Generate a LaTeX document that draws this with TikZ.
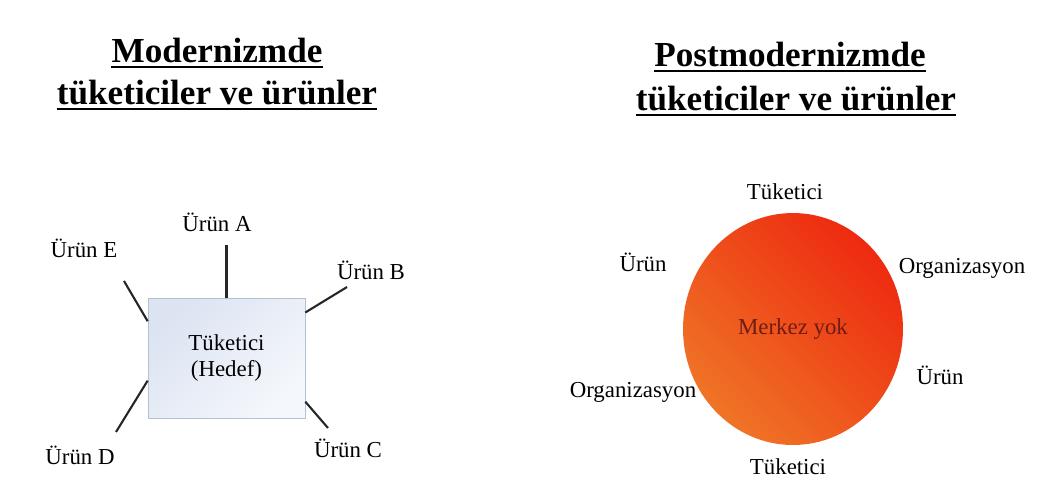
\documentclass[tikz,border=0pt]{standalone}
\usepackage{fontspec}
\setmainfont{Liberation Serif}
\usetikzlibrary{shapes.geometric}
\definecolor{boxfill}{HTML}{DCE4F2}
\definecolor{boxline}{HTML}{B4C0D4}
\definecolor{hotred}{HTML}{EE2A10}
\definecolor{hotorange}{HTML}{EF7426}
\definecolor{darkbrown}{HTML}{6E1C14}
\begin{document}
\begin{tikzpicture}[x=0.02cm,y=-0.02cm,every node/.style={font=\fontsize{13pt}{15pt}\selectfont},
  ttl/.style={font=\fontsize{20pt}{24pt}\selectfont\bfseries,inner sep=0pt,anchor=base},
  uline/.style={line width=1.3pt},
  spoke/.style={line width=1.2pt,black!85}]
\useasboundingbox (0,0) rectangle (1038,488);
% titles
\node[ttl] (tl1) at (217,62) {Modernizmde};
\node[ttl] (tl2) at (217,104) {tüketiciler ve ürünler};
\node[ttl] (tr1) at (790,66) {Postmodernizmde};
\node[ttl] (tr2) at (796,110) {tüketiciler ve ürünler};
\foreach \t in {tl1,tl2,tr1,tr2}
  \draw[uline] ([yshift=-3pt]\t.base west) -- ([yshift=-3pt]\t.base east);
% modernism: consumer in the middle
\node[draw=boxline,thin,top color=boxfill,bottom color=boxfill!30,shading angle=45,minimum width=3.14cm,minimum height=2.4cm,align=center] (cons) at (226.5,358) {Tüketici\\(Hedef)};
\foreach \nm/\x/\y/\t in {pa/217/222/Ürün A,pb/371/270/Ürün B,pc/348/448/Ürün C,pd/80/455/Ürün D,pe/84/248/Ürün E}
  \node (\nm) at (\x,\y) {\t};
\coordinate (ea) at (226.5,245);
\coordinate (eb) at (347,287);
\coordinate (ec) at (328,428);
\coordinate (ed) at (116,432);
\coordinate (ee) at (124,281);
\draw[spoke] (cons.north) -- (ea);
\draw[spoke] (cons.30) -- (eb);
\draw[spoke] (cons.-29) -- (ec);
\draw[spoke] (cons.196) -- (ed);
\draw[spoke] (cons.155) -- (ee);
% postmodernism: no centre
\node[ellipse,top color=hotred,bottom color=hotorange,shading angle=-45,minimum width=4.4cm,minimum height=4.64cm,inner sep=0pt,text=darkbrown] (mid) at (793,329) {Merkez yok};
\foreach \nm/\x/\y/\t in {tk1/785/192/Tüketici,ur1/643/262/Ürün,or1/962/268/Organizasyon,ur2/940/375/Ürün,or2/633/392/Organizasyon,tk2/788/467/Tüketici}
  \node (\nm) at (\x,\y) {\t};
\end{tikzpicture}
\end{document}
